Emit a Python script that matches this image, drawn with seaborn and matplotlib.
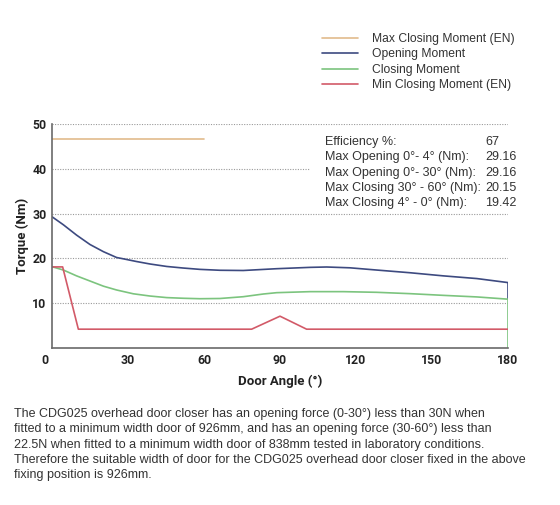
import numpy as np
import pandas as pd
import matplotlib
matplotlib.use("Agg")
import matplotlib.pyplot as plt
import seaborn as sns

# Values
max_close_x = [0, 60]
max_close_y = [46.7, 46.7]

open_x = [0, 4.5, 9.7, 15, 20.3, 25.5, 28.2, 33.4, 38.7, 45.3, 51.8, 58.4, 66.3, 75.5,
          88.7, 101.9, 108.4, 117.6, 128.2, 141.3, 154.5, 167.7, 180, 180]
open_y = [29.3, 27.5, 25.2, 23.1, 21.5, 20.2, 19.9, 19.3, 18.75, 18.2, 17.85, 17.55, 17.35, 17.3,
          17.7, 18.0, 18.08, 17.9, 17.4, 16.8, 16.1, 15.5, 14.6, 10.9]

close_x = [0, 4.5, 9.7, 15, 20.3, 25.5, 32.1, 38.7, 45.3, 51.8, 58.4, 66.3, 75.5, 83.4, 88.7,
           101.9, 115, 128.2, 141.3, 154.5, 167.7, 180, 180]
close_y = [18.15, 17.4, 16.1, 14.95, 13.8, 12.95, 12.1, 11.6, 11.25, 11.1, 11.0, 11.05, 11.45, 12.05, 12.35,
           12.58, 12.58, 12.43, 12.13, 11.75, 11.4, 10.9, 0]

min_close_x = [0, 4.2, 10.4, 78.8, 90, 100.5, 180]
min_close_y = [18.1, 18.1, 4.2, 4.2, 7.1, 4.2, 4.2]

series_names = ["Max Closing Moment (EN)", "Opening Moment", "Closing Moment", "Min Closing Moment (EN)"]
series_colors = ["#e2bb8c", "#3d4a80", "#7cc47e", "#d25a68"]

x_ticks = [30, 60, 90, 120, 150, 180]
y_ticks = [10, 20, 30, 40, 50]

stat_labels = ["Efficiency %:", "Max Opening 0°- 4° (Nm):", "Max Opening 0°- 30° (Nm):",
               "Max Closing 30° - 60° (Nm):", "Max Closing 4° - 0° (Nm):"]
stat_values = ["67", "29.16", "29.16", "20.15", "19.42"]

caption = [
    "The CDG025 overhead door closer has an opening force (0-30°) less than 30N when",
    "fitted to a minimum width door of 926mm, and has an opening force (30-60°) less than",
    "22.5N when fitted to a minimum width door of 838mm tested in laboratory conditions.",
    "Therefore the suitable width of door for the CDG025 overhead door closer fixed in the above",
    "fixing position is 926mm.",
]

sns.set_style("white")

body_font = "Liberation Sans"
body_size = 9.0
label_font = "Roboto"
plt.rcParams["font.family"] = [body_font, "DejaVu Sans"]

fig = plt.figure(figsize=(5.6, 5.05), dpi=100)
ax = fig.add_axes([52 / 560, 1 - 348 / 505, 456 / 560, 224 / 505])

frames = []
for name, xs, ys in zip(series_names,
                        [max_close_x, open_x, close_x, min_close_x],
                        [max_close_y, open_y, close_y, min_close_y]):
    frames.append(pd.DataFrame({"angle": xs, "torque": ys, "series": name}))
df = pd.concat(frames, ignore_index=True)

for name, color in zip(series_names, series_colors):
    sub = df[df["series"] == name]
    sns.lineplot(data=sub, x="angle", y="torque", ax=ax, color=color, lw=1.2,
                 estimator=None, sort=False, label=name)

# dotted grid lines
for yv in y_ticks:
    ax.plot([0, 180], [yv, yv], color="#9a9a9a", lw=0.8, ls=(0, (1, 1.3)), zorder=0)

ax.set_xlim(0, 180)
ax.set_ylim(0, 50)
ax.set_xticks(x_ticks)
ax.set_yticks(y_ticks)
ax.tick_params(length=0, pad=4)
for lab in ax.get_xticklabels() + ax.get_yticklabels():
    lab.set_fontfamily(label_font)
    lab.set_fontweight("bold")
    lab.set_fontsize(8.8)
    lab.set_color("#222222")
ax.annotate("0", xy=(0, 0), xytext=(-5, -4), textcoords="offset points", ha="center", va="top",
            fontfamily=label_font, fontweight="bold", fontsize=8.8, color="#222222")

for side in ["top", "right"]:
    ax.spines[side].set_visible(False)
for side in ["left", "bottom"]:
    ax.spines[side].set_color("#6a6a6a")
    ax.spines[side].set_linewidth(1.2)

ax.set_xlabel("Door Angle (°)", fontfamily=label_font, fontweight="bold", fontsize=9.5,
              color="#222222", labelpad=6)
ax.set_ylabel("Torque (Nm)", fontfamily=label_font, fontweight="bold", fontsize=9.5,
              color="#222222", labelpad=2.5)

# legend above the chart
handles, labels = ax.get_legend_handles_labels()
ax.get_legend().remove()
fig.legend(handles, labels, loc="upper left", bbox_to_anchor=(322 / 560, 1 - 33 / 505),
           frameon=False, borderpad=0, borderaxespad=0, handlelength=3.0, handletextpad=1.1,
           labelspacing=0.28, prop={"family": body_font, "size": 8.7})
for t in fig.legends[0].get_texts():
    t.set_color("#333333")

# stats block with a white patch over the grid
ax.add_patch(plt.Rectangle((310 / 560, 1 - 212 / 505), 200 / 560, 80 / 505, transform=fig.transFigure,
                           facecolor="white", edgecolor="none", zorder=1))
for i, (lab, val) in enumerate(zip(stat_labels, stat_values)):
    yy = 1 - (142 + i * 15.3) / 505
    fig.text(325 / 560, yy, lab, ha="left", va="center", fontsize=body_size, color="#333333", zorder=3)
    fig.text(485 / 560, yy, val, ha="left", va="center", fontsize=body_size, color="#333333", zorder=3)

for i, line in enumerate(caption):
    fig.text(14 / 560, 1 - (414 + i * 15.3) / 505, line, ha="left", va="center",
             fontsize=body_size, color="#333333")

fig.savefig("out.png", dpi=100)
